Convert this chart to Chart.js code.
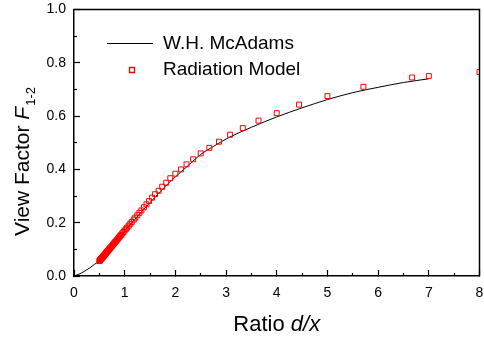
<!DOCTYPE html>
<html>
<head>
<meta charset="utf-8">
<script src="https://cdn.jsdelivr.net/npm/chart.js@4/dist/chart.umd.min.js"></script>
<style>
  html, body { margin: 0; padding: 0; background: #fff; }
  #wrap { width: 484px; height: 341px; position: relative; }
</style>
</head>
<body>
<div id="wrap"><canvas id="c" width="484" height="341"></canvas></div>
<script>
// ---- Data ----
const seriesNames = ["W.H. McAdams", "Radiation Model"];
const xTickValues = [0, 1, 2, 3, 4, 5, 6, 7, 8];
const xMinorTickValues = [0.5, 1.5, 2.5, 3.5, 4.5, 5.5, 6.5, 7.5];
const yTickValues = [0.0, 0.2, 0.4, 0.6, 0.8, 1.0];
const yMinorTickValues = [0.1, 0.3, 0.5, 0.7, 0.9];

// W.H. McAdams curve (solid black line)
const mcadamsX = [0, 0.1, 0.2, 0.3, 0.4, 0.5, 0.6, 0.7, 0.8, 0.9, 1.0, 1.2, 1.4, 1.6, 1.8, 2.0, 2.25, 2.5, 2.75, 3.0, 3.5, 4.0, 4.5, 5.0, 5.5, 6.0, 6.5, 7.0];
const mcadamsY = [0, 0.007, 0.017, 0.029, 0.043, 0.057, 0.079, 0.102, 0.125, 0.148, 0.170, 0.213, 0.255, 0.296, 0.336, 0.372, 0.414, 0.456, 0.486, 0.514, 0.558, 0.597, 0.631, 0.662, 0.688, 0.708, 0.726, 0.740];

// Radiation Model (red open squares)
const modelX = [8.00, 7.00, 6.67, 5.71, 5.00, 4.44, 4.00, 3.64, 3.33, 3.08, 2.86, 2.67, 2.50, 2.35, 2.22, 2.11, 2.00,
  1.90, 1.82, 1.74, 1.67, 1.60, 1.54, 1.48, 1.43, 1.38, 1.33, 1.29, 1.25, 1.21, 1.18, 1.14, 1.11, 1.08, 1.05, 1.03, 1.00,
  0.976, 0.952, 0.930, 0.909, 0.889, 0.870, 0.851, 0.833, 0.816, 0.800, 0.784, 0.769, 0.755, 0.741, 0.727, 0.714,
  0.702, 0.690, 0.678, 0.667, 0.656, 0.645, 0.635, 0.625, 0.615, 0.606, 0.597, 0.588, 0.580, 0.571, 0.563, 0.556,
  0.548, 0.541, 0.533, 0.526, 0.519, 0.513, 0.506, 0.500];
const modelY = [0.765, 0.750, 0.745, 0.710, 0.675, 0.643, 0.611, 0.583, 0.555, 0.530, 0.504, 0.481, 0.460, 0.438, 0.419, 0.400, 0.384,
  0.367, 0.350, 0.335, 0.320, 0.307, 0.294, 0.281, 0.269, 0.258, 0.246, 0.237, 0.228, 0.219, 0.212, 0.203, 0.196, 0.189, 0.182, 0.177, 0.171,
  0.165, 0.160, 0.154, 0.150, 0.145, 0.141, 0.136, 0.132, 0.128, 0.125, 0.121, 0.118, 0.114, 0.111, 0.108, 0.105,
  0.102, 0.100, 0.097, 0.094, 0.092, 0.089, 0.087, 0.085, 0.082, 0.080, 0.078, 0.076, 0.074, 0.072, 0.070, 0.069,
  0.067, 0.065, 0.064, 0.062, 0.060, 0.059, 0.057, 0.056];

const FONT = "'Liberation Sans', Arial, Helvetica, sans-serif";

const lineData = mcadamsX.map((x, i) => ({ x: x, y: mcadamsY[i] }));
const modelData = modelX.map((x, i) => ({ x: x, y: modelY[i] }));

const textPlugin = {
  id: 'texts',
  afterDraw(chart) {
    const ctx = chart.ctx;
    const a = chart.chartArea;
    ctx.save();
    // top and right edges of the plot frame
    ctx.strokeStyle = '#000';
    ctx.lineWidth = 1.5;
    ctx.beginPath();
    ctx.moveTo(a.left, a.top);
    ctx.lineTo(a.right, a.top);
    ctx.lineTo(a.right, a.bottom);
    ctx.stroke();

    ctx.fillStyle = '#000';
    // X axis title: "Ratio d/x"
    ctx.textBaseline = 'alphabetic';
    ctx.textAlign = 'left';
    const f1 = '22px ' + FONT, f2 = 'italic 22px ' + FONT;
    ctx.font = f1; const w1 = ctx.measureText('Ratio ').width;
    ctx.font = f2; const w2 = ctx.measureText('d/x').width;
    const cx = (a.left + a.right) / 2;
    const sx = cx - (w1 + w2) / 2;
    ctx.font = f1; ctx.fillText('Ratio ', sx, 331);
    ctx.font = f2; ctx.fillText('d/x', sx + w1, 331);

    // Y axis title: "View Factor F1-2"
    ctx.save();
    ctx.translate(28.5, 236);
    ctx.rotate(-Math.PI / 2);
    const g1 = '21px ' + FONT, g2 = 'italic 21px ' + FONT, g3 = '13px ' + FONT;
    ctx.font = g1; ctx.fillText('View Factor ', 0, 0);
    let off = ctx.measureText('View Factor ').width;
    ctx.font = g2; ctx.fillText('F', off, 0);
    off += ctx.measureText('F').width + 1;
    ctx.font = g3; ctx.fillText('1-2', off, 6);
    ctx.restore();

    // Legend (inside plot, top-left)
    ctx.font = '19px ' + FONT;
    ctx.textBaseline = 'middle';
    ctx.fillText(chart.data.datasets[1].label, 163, 44);
    ctx.fillText(chart.data.datasets[0].label, 163, 70);
    ctx.strokeStyle = 'rgb(0,0,0)';
    ctx.lineWidth = 1;
    ctx.beginPath();
    ctx.moveTo(107, 43.5); ctx.lineTo(153, 43.5);
    ctx.stroke();
    ctx.strokeStyle = '#ff0000';
    ctx.lineWidth = 1.3;
    ctx.beginPath();
    ctx.rect(129.5, 67.5, 5, 5);
    ctx.stroke();
    ctx.restore();
  }
};

const blackGrid = (len) => ({
  display: true, drawOnChartArea: false, drawTicks: true,
  tickLength: len, tickWidth: 1.2, tickColor: '#000', color: '#000'
});

new Chart(document.getElementById('c'), {
  type: 'scatter',
  data: {
    datasets: [
      {
        label: seriesNames[1],
        data: modelData,
        showLine: false,
        pointStyle: 'rect',
        pointRadius: 3.5,
        pointHoverRadius: 3.5,
        borderColor: '#ff0000',
        backgroundColor: 'rgba(255,255,255,0)',
        pointBorderWidth: 1
      },
      {
        label: seriesNames[0],
        data: lineData,
        showLine: true,
        pointRadius: 0,
        borderColor: '#000',
        borderWidth: 1,
        cubicInterpolationMode: 'monotone',
        fill: false
      }
    ]
  },
  options: {
    responsive: false,
    animation: false,
    events: [],
    layout: { padding: { top: 9.5, right: 3, left: 0, bottom: 0 } },
    plugins: { legend: { display: false }, tooltip: { enabled: false }, title: { display: false } },
    scales: {
      x: {
        type: 'linear', position: 'bottom', min: 0, max: 8, weight: 1,
        afterFit(s) { s.height = 65; s.paddingLeft = 0; s.paddingRight = 0; },
        afterBuildTicks(s) { s.ticks = xTickValues.map(v => ({ value: v })); },
        grid: blackGrid(-6),
        border: { display: true, color: '#000', width: 1.5 },
        ticks: { color: '#000', font: { family: FONT, size: 14 }, padding: 15, maxRotation: 0, autoSkip: false,
                 callback: v => String(v) }
      },
      xMinor: {
        type: 'linear', axis: 'x', position: 'bottom', min: 0, max: 8, weight: -1,
        afterFit(s) { s.height = 0; s.paddingLeft = 0; s.paddingRight = 0; },
        afterBuildTicks(s) { s.ticks = xMinorTickValues.map(v => ({ value: v })); },
        grid: blackGrid(-3),
        border: { display: false },
        ticks: { display: false }
      },
      y: {
        type: 'linear', position: 'left', min: 0, max: 1, weight: 1,
        afterFit(s) { s.width = 74; s.paddingTop = 0; s.paddingBottom = 0; },
        afterBuildTicks(s) { s.ticks = yTickValues.map(v => ({ value: v })); },
        grid: blackGrid(-6),
        border: { display: true, color: '#000', width: 1.5 },
        ticks: { color: '#000', font: { family: FONT, size: 14 }, padding: 14, autoSkip: false,
                 callback: v => Number(v).toFixed(1) }
      },
      yMinor: {
        type: 'linear', axis: 'y', position: 'left', min: 0, max: 1, weight: -1,
        afterFit(s) { s.width = 0; s.paddingTop = 0; s.paddingBottom = 0; },
        afterBuildTicks(s) { s.ticks = yMinorTickValues.map(v => ({ value: v })); },
        grid: blackGrid(-3),
        border: { display: false },
        ticks: { display: false }
      }
    }
  },
  plugins: [textPlugin]
});
</script>
</body>
</html>
